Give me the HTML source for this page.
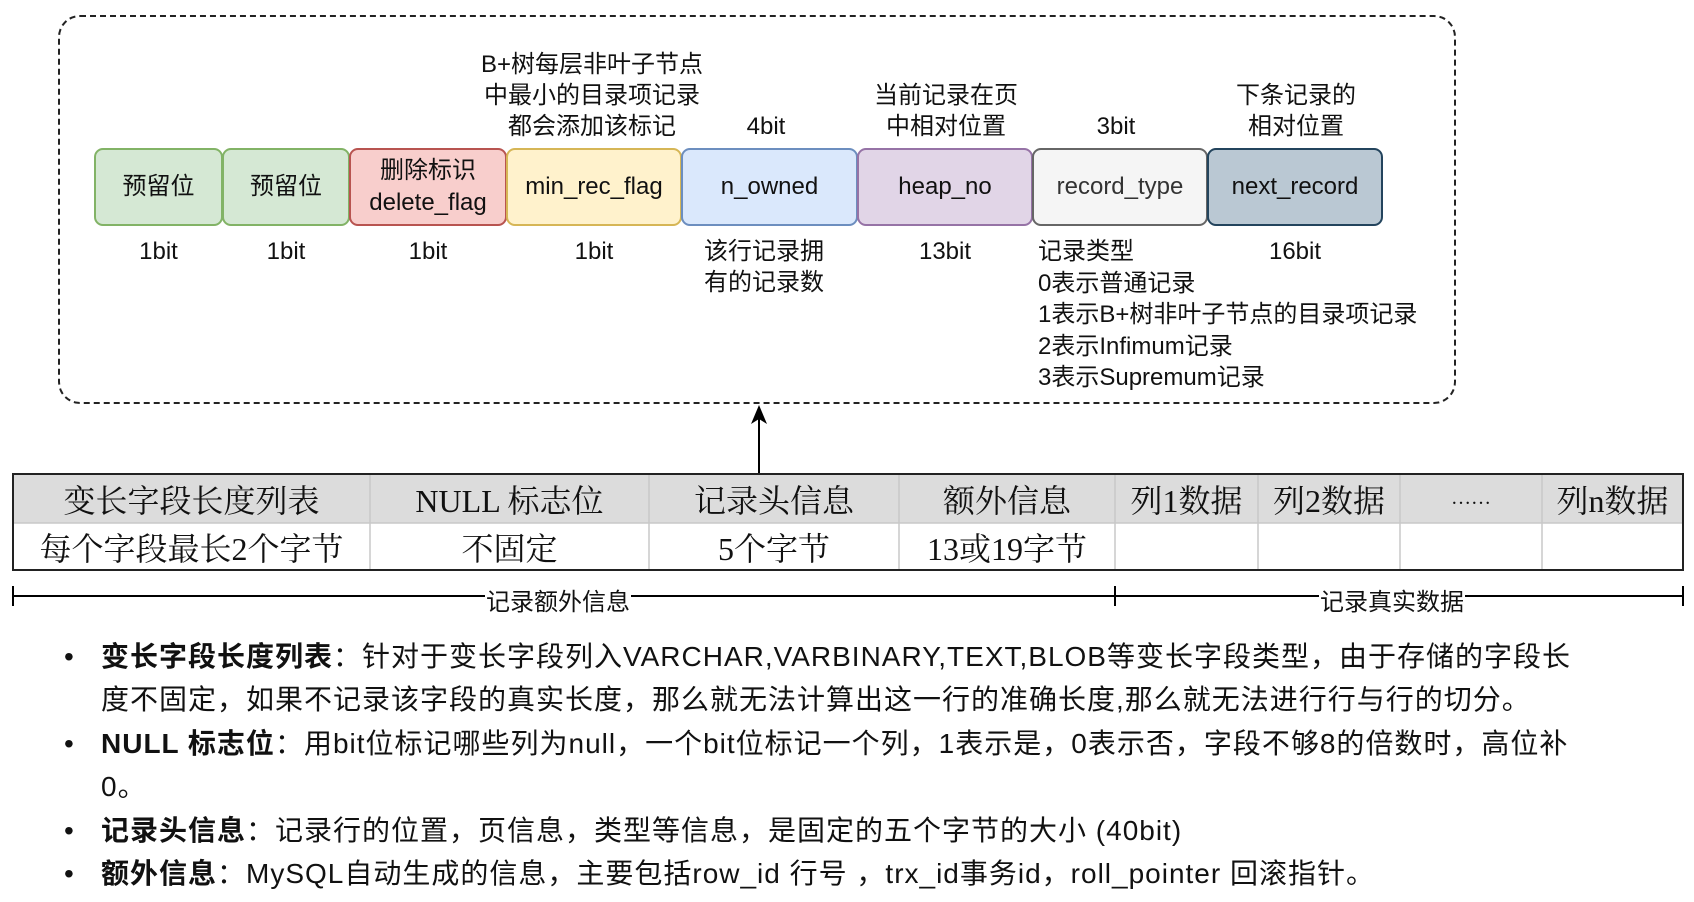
<!DOCTYPE html>
<html><head><meta charset="utf-8"><style>
body{margin:0;width:1694px;height:902px;background:#fff;position:relative;overflow:hidden;font-family:"Liberation Sans","Noto Sans CJK SC",sans-serif;color:#111}
.a{position:absolute;white-space:nowrap}
.f{position:absolute;top:148px;height:78px;border:2px solid;border-radius:9px;box-sizing:border-box;display:flex;align-items:center;justify-content:center;text-align:center;font-size:24px;line-height:32px}
.c{text-align:center;font-size:24px;line-height:31px}
.t{position:absolute;font-family:"Liberation Serif","Noto Serif CJK SC",serif;font-size:32px;display:flex;align-items:center;justify-content:center;box-sizing:border-box}
.b{font-size:28px;line-height:43px;letter-spacing:1px}
</style></head><body>
<div class="a" style="left:58px;top:15px;width:1398px;height:389px;border:2px dashed #222;border-radius:22px;box-sizing:border-box"></div>

<div class="a c" style="left:467px;top:49px;width:250px">B+树每层非叶子节点<br>中最小的目录项记录<br>都会添加该标记</div>
<div class="a c" style="left:696px;top:111px;width:140px">4bit</div>
<div class="a c" style="left:846px;top:80px;width:200px">当前记录在页<br>中相对位置</div>
<div class="a c" style="left:1046px;top:111px;width:140px">3bit</div>
<div class="a c" style="left:1196px;top:80px;width:200px">下条记录的<br>相对位置</div>

<div class="f" style="left:94px;width:129px;background:#d5e8d4;border-color:#82b366">预留位</div>
<div class="f" style="left:222px;width:128px;background:#d5e8d4;border-color:#82b366">预留位</div>
<div class="f" style="left:349px;width:158px;background:#f8cecc;border-color:#b85450">删除标识<br>delete_flag</div>
<div class="f" style="left:506px;width:176px;background:#fff2cc;border-color:#d6b656">min_rec_flag</div>
<div class="f" style="left:681px;width:177px;background:#dae8fc;border-color:#6c8ebf">n_owned</div>
<div class="f" style="left:857px;width:176px;background:#e1d5e7;border-color:#9673a6">heap_no</div>
<div class="f" style="left:1032px;width:176px;background:#f5f5f5;border-color:#666;color:#333">record_type</div>
<div class="f" style="left:1207px;width:176px;background:#bac8d3;border-color:#23445d">next_record</div>

<div class="a c" style="left:94px;top:236px;width:129px">1bit</div>
<div class="a c" style="left:222px;top:236px;width:128px">1bit</div>
<div class="a c" style="left:349px;top:236px;width:158px">1bit</div>
<div class="a c" style="left:506px;top:236px;width:176px">1bit</div>
<div class="a" style="left:704px;top:236px;font-size:24px;line-height:31px">该行记录拥<br>有的记录数</div>
<div class="a c" style="left:857px;top:236px;width:176px">13bit</div>
<div class="a c" style="left:1207px;top:236px;width:176px">16bit</div>
<div class="a" style="left:1038px;top:236px;font-size:24px;line-height:31.5px">记录类型<br>0表示普通记录<br>1表示B+树非叶子节点的目录项记录<br>2表示Infimum记录<br>3表示Supremum记录</div>

<svg class="a" style="left:0;top:0" width="1694" height="902">
<line x1="759" y1="473" x2="759" y2="418" stroke="#000" stroke-width="2"/>
<polygon points="759,405 751,424 759,419 767,424" fill="#000"/>
<rect x="13" y="474" width="1670" height="49" fill="#dcdcdc"/>
<g stroke="#c8c8c8" stroke-width="1.5">
<line x1="370" y1="474" x2="370" y2="570"/><line x1="649" y1="474" x2="649" y2="570"/><line x1="899" y1="474" x2="899" y2="570"/><line x1="1115" y1="474" x2="1115" y2="570"/><line x1="1258" y1="474" x2="1258" y2="570"/><line x1="1400" y1="474" x2="1400" y2="570"/><line x1="1542" y1="474" x2="1542" y2="570"/><line x1="13" y1="523" x2="1683" y2="523"/>
</g>
<rect x="13" y="474" width="1670" height="96" fill="none" stroke="#222" stroke-width="2"/>
<g stroke="#000" stroke-width="2">
<line x1="13" y1="596" x2="1683" y2="596"/><line x1="13" y1="586" x2="13" y2="606"/><line x1="1115" y1="586" x2="1115" y2="606"/><line x1="1683" y1="586" x2="1683" y2="606"/>
</g>
</svg>
<div class="a" style="left:485px;top:582px;font-size:24px;background:#fff;padding:0 1px">记录额外信息</div>
<div class="a" style="left:1319px;top:582px;font-size:24px;background:#fff;padding:0 1px">记录真实数据</div>

<div class="t" style="left:13px;top:474px;width:357px;height:49px">变长字段长度列表</div>
<div class="t" style="left:370px;top:474px;width:279px;height:49px">NULL 标志位</div>
<div class="t" style="left:649px;top:474px;width:250px;height:49px">记录头信息</div>
<div class="t" style="left:899px;top:474px;width:216px;height:49px">额外信息</div>
<div class="t" style="left:1115px;top:474px;width:143px;height:49px">列1数据</div>
<div class="t" style="left:1258px;top:474px;width:142px;height:49px">列2数据</div>
<div class="t" style="left:1400px;top:474px;width:142px;height:49px;font-size:20px">……</div>
<div class="t" style="left:1542px;top:474px;width:141px;height:49px">列n数据</div>
<div class="t" style="left:13px;top:523px;width:357px;height:47px">每个字段最长2个字节</div>
<div class="t" style="left:370px;top:523px;width:279px;height:47px">不固定</div>
<div class="t" style="left:649px;top:523px;width:250px;height:47px">5个字节</div>
<div class="t" style="left:899px;top:523px;width:216px;height:47px">13或19字节</div>

<div class="a b" style="left:64px;top:635px">•</div>
<div class="a b" style="left:101px;top:635px"><b>变长字段长度列表</b>：针对于变长字段列入VARCHAR,VARBINARY,TEXT,BLOB等变长字段类型，由于存储的字段长</div>
<div class="a b" style="left:101px;top:678px">度不固定，如果不记录该字段的真实长度，那么就无法计算出这一行的准确长度,那么就无法进行行与行的切分。</div>
<div class="a b" style="left:64px;top:722px">•</div>
<div class="a b" style="left:101px;top:722px"><b>NULL 标志位</b>：用bit位标记哪些列为null，一个bit位标记一个列，1表示是，0表示否，字段不够8的倍数时，高位补</div>
<div class="a b" style="left:101px;top:765px">0。</div>
<div class="a b" style="left:64px;top:809px">•</div>
<div class="a b" style="left:101px;top:809px"><b>记录头信息</b>：记录行的位置，页信息，类型等信息，是固定的五个字节的大小 (40bit)</div>
<div class="a b" style="left:64px;top:852px">•</div>
<div class="a b" style="left:101px;top:852px"><b>额外信息</b>：MySQL自动生成的信息，主要包括row_id 行号 ，trx_id事务id，roll_pointer 回滚指针。</div>
</body></html>
